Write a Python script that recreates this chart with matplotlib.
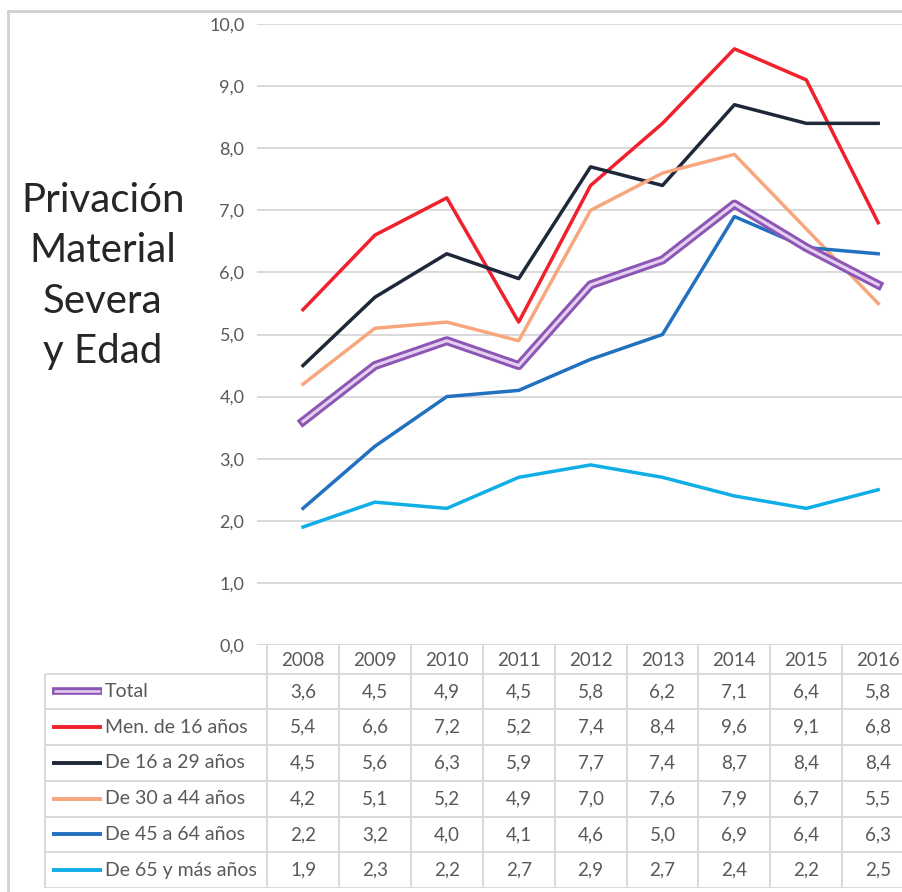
import matplotlib
matplotlib.use("Agg")
import matplotlib.pyplot as plt

plt.rcParams['font.family'] = ['Lato', 'DejaVu Sans']

# datos
years = ['2008', '2009', '2010', '2011', '2012', '2013', '2014', '2015', '2016']
series_names = ['Total', 'Men. de 16 años', 'De 16 a 29 años', 'De 30 a 44 años',
                'De 45 a 64 años', 'De 65 y más años']
total = [3.6, 4.5, 4.9, 4.5, 5.8, 6.2, 7.1, 6.4, 5.8]
men16 = [5.4, 6.6, 7.2, 5.2, 7.4, 8.4, 9.6, 9.1, 6.8]
de16_29 = [4.5, 5.6, 6.3, 5.9, 7.7, 7.4, 8.7, 8.4, 8.4]
de30_44 = [4.2, 5.1, 5.2, 4.9, 7.0, 7.6, 7.9, 6.7, 5.5]
de45_64 = [2.2, 3.2, 4.0, 4.1, 4.6, 5.0, 6.9, 6.4, 6.3]
de65 = [1.9, 2.3, 2.2, 2.7, 2.9, 2.7, 2.4, 2.2, 2.5]
y_ticks = [0, 1, 2, 3, 4, 5, 6, 7, 8, 9, 10]

all_series = [total, men16, de16_29, de30_44, de45_64, de65]
colors = ['#8E56B4', '#F0202C', '#1E2838', '#F7A67E', '#2270C0', '#10AEE6']

W, H = 902, 892
GRID = '#D9D9D9'
TXT = '#595959'
COLW = 71.9   # px por año
X0 = 303      # px del centro de 2008


def fx(px):
    return px / W


def fy(py):
    return 1 - py / H


def dx(px):
    return (px - X0) / COLW


fig = plt.figure(figsize=(W / 100, H / 100), dpi=100)
fig.patch.set_facecolor('white')

# marco gris
fig.add_artist(plt.Line2D([fx(8), fx(8)], [fy(11), 0], color='#D0D0D0', lw=2))
fig.add_artist(plt.Line2D([fx(8), 1], [fy(11), fy(11)], color='#D0D0D0', lw=2))

# grafico de lineas
ax = fig.add_axes([fx(257), fy(645), fx(902) - fx(257), fy(24) - fy(645)])
ax.set_xlim(dx(257), dx(902))
ax.set_ylim(0, 10)
ax.set_yticks(y_ticks)
ax.set_yticklabels([f'{v:.1f}'.replace('.', ',') for v in y_ticks], color=TXT, fontsize=13)
ax.tick_params(axis='y', length=0, pad=9)
ax.set_xticks([])
ax.grid(axis='y', color=GRID, lw=1.4)
ax.set_axisbelow(True)
for s in ax.spines.values():
    s.set_visible(False)

xs = list(range(len(years)))
for vals, c in zip(all_series[1:], colors[1:]):
    ax.plot(xs, vals, color=c, lw=2.5, clip_on=False)
ax.plot(xs, total, color=colors[0], lw=6.5, clip_on=False)
ax.plot(xs, total, color='#E3D0F0', lw=2.2, clip_on=False)

# tabla de datos
tab = fig.add_axes([0, fy(888), 1, fy(645) - fy(888)])
tab.set_xlim(dx(0), dx(902))
tab.set_ylim(6.8, 0)
tab.axis('off')

xl = dx(45)
tab.hlines([0.8 + i for i in range(7)], xl, dx(902), color=GRID, lw=1.4)
tab.vlines([-0.5 + k for k in range(10)], 0, 6.8, color=GRID, lw=1.4)
tab.vlines([xl], 0.8, 6.8, color=GRID, lw=1.4)

for k, yr in enumerate(years):
    tab.text(k, 0.42, yr, ha='center', va='center', color=TXT, fontsize=13.5)

for i, (name, vals, c) in enumerate(zip(series_names, all_series, colors)):
    yc = 1.3 + i
    if i == 0:
        tab.plot([dx(52), dx(102)], [yc, yc], color=c, lw=5.5, solid_capstyle='butt')
        tab.plot([dx(54), dx(100)], [yc, yc], color='#E3D0F0', lw=1.8, solid_capstyle='butt')
    else:
        tab.plot([dx(52), dx(102)], [yc, yc], color=c, lw=2.8, solid_capstyle='butt')
    tab.text(dx(105), yc, name, ha='left', va='center', color=TXT, fontsize=14)
    for k, v in enumerate(vals):
        tab.text(k, yc, f'{v:.1f}'.replace('.', ','), ha='center', va='center',
                 color=TXT, fontsize=13.5)

# titulo
fig.text(fx(103), fy(276), 'Privación\nMaterial\nSevera\ny Edad', ha='center', va='center',
         fontsize=29, color='#262626', linespacing=1.45)

fig.savefig('out.png', dpi=100)
